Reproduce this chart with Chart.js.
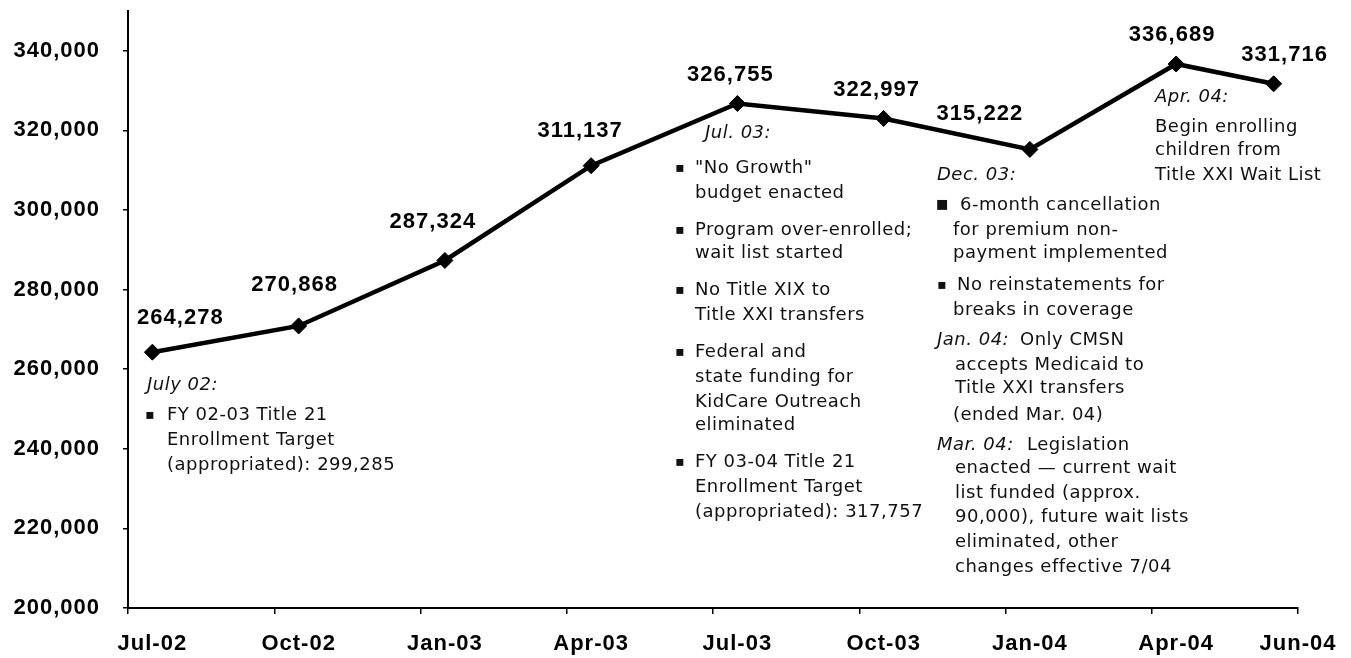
<!DOCTYPE html>
<html><head><meta charset="utf-8">
<script src="https://cdn.jsdelivr.net/npm/chart.js@4.4.1/dist/chart.umd.min.js"></script>
<style>html,body{margin:0;padding:0;background:#fff;overflow:hidden}canvas{display:block}</style>
</head><body>
<canvas id="c" width="1351" height="658"></canvas>
<script>
// ---- data ----
const observationMonths = ['2002-07','2002-10','2003-01','2003-04','2003-07','2003-10','2004-01','2004-04','2004-06'];
const enrollment = [264278, 270868, 287324, 311137, 326755, 322997, 315222, 336689, 331716];
const xTickLabels = ['Jul-02','Oct-02','Jan-03','Apr-03','Jul-03','Oct-03','Jan-04','Apr-04','Jun-04'];
const xTickMonths = [0, 3, 6, 9, 12, 15, 18, 21, 24];
const yTicks = [200000, 220000, 240000, 260000, 280000, 300000, 320000, 340000];

// ---- annotation texts ----
const noteJul02 = ['July 02:', 'FY 02-03 Title 21', 'Enrollment Target', '(appropriated): 299,285'];
const noteJul03 = ['Jul. 03:', '"No Growth"', 'budget enacted', 'Program over-enrolled;', 'wait list started',
  'No Title XIX to', 'Title XXI transfers', 'Federal and', 'state funding for', 'KidCare Outreach',
  'eliminated', 'FY 03-04 Title 21', 'Enrollment Target', '(appropriated): 317,757'];
const noteDec03 = ['Dec. 03:', '6-month cancellation', 'for premium non-', 'payment implemented',
  'No reinstatements for', 'breaks in coverage', 'Jan. 04:', 'Only CMSN', 'accepts Medicaid to',
  'Title XXI transfers', '(ended Mar. 04)', 'Mar. 04:', 'Legislation', 'enacted \u2014 current wait',
  'list funded (approx.', '90,000), future wait lists', 'eliminated, other', 'changes effective 7/04'];
const noteApr04 = ['Apr. 04:', 'Begin enrolling', 'children from', 'Title XXI Wait List'];

function monthIndex(s) { const [y, m] = s.split('-').map(Number); return (y - 2002) * 12 + (m - 7); }
const points = observationMonths.map((s, i) => ({ x: monthIndex(s) + 0.5, y: enrollment[i] }));

// ---- layout (pixels) ----
const labelOffsets = [[28,-34],[-4,-41],[-12,-39],[-11,-35],[-7,-29],[-7,-29],[-50,-35],[-4,-29],[11,-29]];
const NOTE_FONT = '18px "DejaVu Sans"';
const NOTE_IT = 'italic 18px "DejaVu Sans"';
// [text, x, y, italic]
const noteLayout = [
  [noteJul02[0],147,385,true],[noteJul02[1],167,415],[noteJul02[2],167,440],[noteJul02[3],167,465],
  [noteJul03[0],705,133,true],[noteJul03[1],695,168],[noteJul03[2],695,193],[noteJul03[3],695,230],
  [noteJul03[4],695,253],[noteJul03[5],695,290],[noteJul03[6],695,315],[noteJul03[7],695,352],
  [noteJul03[8],695,377],[noteJul03[9],695,402],[noteJul03[10],695,425],[noteJul03[11],695,462],
  [noteJul03[12],695,487],[noteJul03[13],695,512],
  [noteDec03[0],937,175,true],[noteDec03[1],960,205],[noteDec03[2],953,230],[noteDec03[3],953,253],
  [noteDec03[4],957,285],[noteDec03[5],953,310],[noteDec03[6],937,340,true],[noteDec03[7],1020,340],
  [noteDec03[8],955,365],[noteDec03[9],955,388],[noteDec03[10],953,415],[noteDec03[11],937,445,true],
  [noteDec03[12],1027,445],[noteDec03[13],955,468],[noteDec03[14],955,493],[noteDec03[15],955,517],
  [noteDec03[16],955,542],[noteDec03[17],955,567],
  [noteApr04[0],1155,97,true],[noteApr04[1],1155,127],[noteApr04[2],1155,150],[noteApr04[3],1155,175]
];
// [x, y, size]
const bullets = [[150,415,14],[680,168,14],[680,230,14],[680,290,14],[680,352,14],[680,462,14],
  [942,205,20],[942,285,14]];

const textPlugin = {
  id: 'texts',
  beforeDraw(chart) { chart.ctx.letterSpacing = '1px'; },
  afterDatasetsDraw(chart) {
    const ctx = chart.ctx;
    const meta = chart.getDatasetMeta(0);
    ctx.save();
    ctx.letterSpacing = '1px';
    ctx.font = 'bold 22px "Liberation Sans", Arial, sans-serif';
    ctx.fillStyle = '#000';
    ctx.textAlign = 'center';
    ctx.textBaseline = 'middle';
    meta.data.forEach((pt, i) => {
      const [dx, dy] = labelOffsets[i];
      ctx.fillText(enrollment[i].toLocaleString('en-US'), pt.x + dx, pt.y + dy);
    });
    ctx.restore();
  },
  afterDraw(chart) {
    const ctx = chart.ctx;
    ctx.save();
    ctx.letterSpacing = '0.5px';
    ctx.fillStyle = '#111';
    ctx.textAlign = 'left';
    ctx.textBaseline = 'middle';
    noteLayout.forEach(([t, x, y, it]) => {
      ctx.font = it ? NOTE_IT : NOTE_FONT;
      ctx.fillText(t, x, y);
    });
    ctx.letterSpacing = '0px';
    ctx.textAlign = 'center';
    bullets.forEach(([x, y, s]) => {
      ctx.font = s + 'px "DejaVu Sans"';
      ctx.fillText('\u25AA', x, y);
    });
    ctx.restore();
  }
};

new Chart(document.getElementById('c'), {
  type: 'line',
  data: {
    datasets: [{
      data: points,
      borderColor: '#000',
      backgroundColor: '#000',
      borderWidth: 4.5,
      pointStyle: 'rectRot',
      pointRadius: 8,
      pointBorderWidth: 1,
      pointBackgroundColor: '#000',
      pointBorderColor: '#000',
      tension: 0,
      xAxisID: 'x',
      yAxisID: 'y'
    }]
  },
  options: {
    responsive: false,
    devicePixelRatio: 1,
    animation: false,
    layout: { padding: { left: 0, right: 53, top: 11, bottom: 0 } },
    plugins: { legend: { display: false }, tooltip: { enabled: false } },
    scales: {
      x: {
        type: 'linear', position: 'bottom', min: 0, max: 24, weight: 0,
        afterBuildTicks: s => { s.ticks = xTickMonths.map(v => ({ value: v })); },
        ticks: { display: false },
        grid: { drawOnChartArea: false, drawTicks: true, tickLength: 6, color: '#000', lineWidth: 1.5 },
        border: { color: '#000', width: 2 },
        afterFit: s => { s.height = 6; s.paddingLeft = 0; s.paddingRight = 0; }
      },
      xl: {
        type: 'linear', position: 'bottom', min: 0, max: 24, weight: 1,
        afterBuildTicks: s => { s.ticks = xTickMonths.map(v => ({ value: Math.min(v + 0.5, 24) })); },
        ticks: {
          autoSkip: false, maxRotation: 0, minRotation: 0, padding: 9, color: '#000',
          font: { family: '"Liberation Sans", Arial, sans-serif', size: 22, weight: 'bold' },
          callback: (v, i) => xTickLabels[i]
        },
        grid: { display: false },
        border: { display: false },
        afterFit: s => { s.height = 44; s.paddingLeft = 0; s.paddingRight = 0; }
      },
      y: {
        type: 'linear', min: 200000, max: 350000,
        afterBuildTicks: s => { s.ticks = yTicks.map(v => ({ value: v })); },
        ticks: {
          color: '#000', padding: 23,
          font: { family: '"Liberation Sans", Arial, sans-serif', size: 22, weight: 'bold' },
          callback: v => Number(v).toLocaleString('en-US')
        },
        grid: { drawOnChartArea: false, drawTicks: true, tickLength: 5, color: '#000', lineWidth: 1.5 },
        border: { color: '#000', width: 2 },
        afterFit: s => { s.width = 128; s.paddingTop = 0; s.paddingBottom = 0; }
      }
    }
  },
  plugins: [textPlugin]
});
</script>
</body></html>
